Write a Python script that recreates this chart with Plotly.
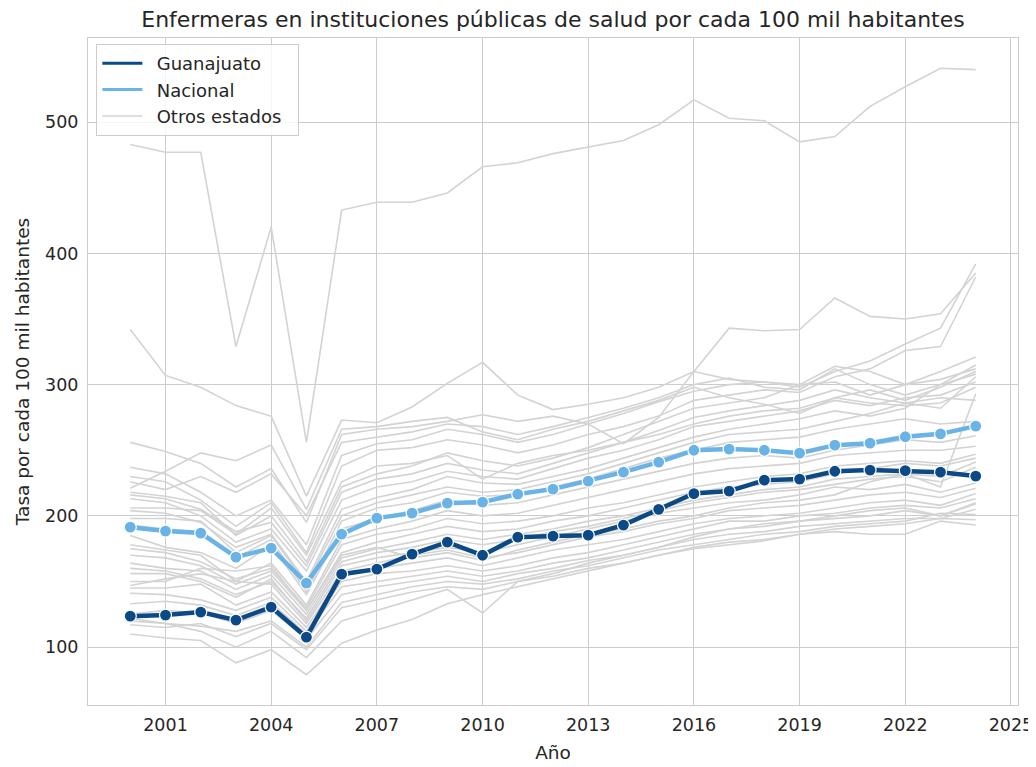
import plotly.graph_objects as go

years = list(range(2000, 2025))

guanajuato = [123.6, 124.4, 126.7, 120.6, 130.5, 107.6, 155.6, 159.4, 170.9, 180.0, 170.0, 183.8,
              184.6, 185.3, 193.0, 205.0, 217.0, 218.9, 227.2, 228.0, 234.0, 234.9, 234.5, 233.3, 230.3]
nacional = [191.4, 188.4, 186.9, 168.6, 175.4, 148.8, 186.1, 198.3, 202.1, 209.7, 210.5, 216.6,
            220.4, 226.5, 233.3, 241.0, 250.0, 250.9, 250.0, 247.8, 253.9, 255.4, 260.3, 262.5, 268.4]

otros = [
    [483, 477, 477, 329, 420, 256, 433, 439, 439, 446, 466, 469, 476, 481, 486, 498, 517, 503, 501, 485, 489, 512, 527, 541, 540],
    [342, 307, 298, 284, 276, 215, 273, 271, 283, 301, 317, 292, 281, 285, 290, 298, 310, 304, 302, 300, 314, 310, 300, 310, 321],
    [256, 249, 240, 222, 236, 195, 262, 266, 268, 272, 277, 272, 276, 270, 255, 275, 310, 343, 341, 342, 366, 352, 350, 354, 385],
    [237, 232, 218, 200, 212, 178, 246, 255, 258, 266, 262, 256, 262, 270, 278, 287, 295, 300, 302, 298, 310, 318, 331, 343, 392],
    [230, 226, 212, 192, 210, 172, 238, 250, 252, 258, 254, 248, 254, 262, 268, 276, 288, 292, 296, 294, 306, 312, 326, 329, 382],
    [226, 220, 230, 218, 232, 200, 256, 260, 264, 270, 268, 262, 268, 275, 282, 290, 300, 305, 298, 296, 312, 300, 292, 300, 315],
    [221, 234, 248, 242, 254, 205, 266, 268, 272, 275, 264, 258, 266, 272, 280, 288, 298, 290, 285, 278, 290, 296, 288, 298, 310],
    [218, 215, 210, 185, 200, 165, 222, 232, 238, 248, 242, 238, 244, 252, 262, 272, 282, 286, 290, 300, 302, 292, 300, 304, 312],
    [216, 213, 205, 188, 195, 162, 218, 228, 232, 240, 235, 232, 240, 248, 256, 265, 275, 280, 284, 288, 296, 290, 286, 282, 306],
    [213, 210, 200, 180, 190, 158, 212, 222, 226, 234, 230, 228, 236, 244, 250, 258, 268, 272, 276, 280, 288, 284, 290, 292, 302],
    [206, 206, 204, 186, 206, 170, 226, 238, 240, 246, 228, 240, 246, 250, 256, 262, 270, 276, 280, 282, 290, 286, 284, 286, 298],
    [204, 202, 195, 176, 186, 150, 205, 214, 220, 230, 225, 224, 230, 236, 244, 252, 260, 266, 270, 274, 280, 276, 282, 300, 308],
    [198, 198, 196, 172, 185, 148, 200, 210, 216, 222, 218, 220, 226, 232, 240, 248, 256, 262, 264, 266, 272, 278, 286, 290, 288],
    [193, 190, 188, 168, 182, 142, 196, 206, 210, 218, 215, 216, 222, 228, 236, 244, 250, 256, 258, 260, 266, 270, 274, 270, 272],
    [185, 176, 172, 160, 178, 140, 190, 198, 204, 212, 208, 210, 216, 222, 228, 234, 240, 244, 246, 244, 250, 254, 258, 256, 261],
    [178, 174, 170, 150, 164, 132, 182, 190, 196, 204, 200, 202, 208, 214, 220, 226, 232, 236, 238, 240, 246, 248, 250, 250, 253],
    [175, 172, 165, 152, 160, 130, 178, 186, 190, 198, 194, 196, 200, 206, 210, 216, 222, 226, 230, 232, 238, 240, 242, 240, 247],
    [170, 168, 162, 148, 158, 128, 172, 180, 186, 192, 188, 190, 196, 200, 206, 212, 218, 222, 224, 226, 232, 236, 240, 238, 244],
    [164, 160, 158, 144, 155, 125, 168, 175, 180, 186, 182, 186, 190, 196, 200, 206, 212, 216, 220, 222, 228, 230, 232, 230, 241],
    [160, 158, 152, 140, 150, 122, 165, 172, 176, 182, 178, 182, 188, 192, 198, 204, 210, 214, 218, 220, 224, 228, 230, 226, 237],
    [156, 156, 150, 138, 152, 120, 162, 168, 172, 176, 172, 178, 184, 190, 196, 202, 206, 210, 212, 216, 222, 220, 224, 218, 225],
    [150, 150, 160, 158, 162, 128, 170, 176, 168, 172, 166, 174, 180, 186, 190, 196, 200, 206, 210, 212, 216, 226, 232, 222, 293],
    [147, 152, 156, 150, 148, 118, 158, 164, 170, 174, 168, 172, 178, 184, 188, 194, 198, 204, 206, 208, 212, 216, 218, 214, 221],
    [145, 145, 148, 132, 142, 115, 154, 160, 164, 168, 162, 168, 174, 178, 182, 188, 194, 198, 200, 202, 206, 210, 212, 208, 217],
    [141, 140, 136, 128, 138, 112, 150, 156, 158, 162, 158, 162, 168, 172, 178, 184, 190, 196, 196, 200, 202, 206, 208, 206, 213],
    [133, 135, 132, 124, 134, 110, 146, 150, 154, 158, 154, 158, 164, 168, 174, 180, 186, 190, 192, 196, 198, 200, 204, 200, 209],
    [125, 128, 126, 118, 128, 106, 140, 146, 150, 154, 150, 156, 160, 166, 170, 176, 182, 186, 188, 192, 194, 196, 198, 198, 205],
    [122, 118, 116, 112, 120, 100, 134, 140, 146, 150, 148, 152, 158, 162, 168, 174, 178, 182, 186, 188, 192, 194, 196, 202, 201],
    [117, 115, 118, 108, 118, 98, 130, 136, 142, 146, 144, 150, 154, 160, 164, 170, 176, 180, 182, 186, 190, 192, 194, 198, 197],
    [110, 107, 105, 88, 98, 79, 103, 113, 121, 133, 140, 146, 152, 158, 164, 170, 175, 178, 181, 186, 188, 186, 186, 196, 193],
    [120, 118, 112, 100, 112, 92, 120, 128, 136, 144, 126, 150, 156, 164, 170, 176, 184, 190, 194, 196, 200, 204, 206, 200, 210],
]

x_ticks = [2001, 2004, 2007, 2010, 2013, 2016, 2019, 2022, 2025]
y_ticks = [100, 200, 300, 400, 500]

GTO = "#0b4a87"
NAC = "#69b3e7"
GRAY = "#d3d3d3"
FONT = "DejaVu Sans"
TXT = "#262626"

W, H = 1028, 759

fig = go.Figure()

for serie in otros:
    fig.add_trace(go.Scatter(x=years, y=serie, mode="lines",
                             line=dict(color=GRAY, width=1.6),
                             showlegend=False, hoverinfo="skip"))

fig.add_trace(go.Scatter(x=years, y=nacional, mode="lines+markers",
                         line=dict(color=NAC, width=4.5),
                         marker=dict(size=12, color=NAC, line=dict(color="white", width=1.2)),
                         showlegend=False))
fig.add_trace(go.Scatter(x=years, y=guanajuato, mode="lines+markers",
                         line=dict(color=GTO, width=4.5),
                         marker=dict(size=12, color=GTO, line=dict(color="white", width=1.2)),
                         showlegend=False))

# legend entries
NB = "\u00a0"
TH = "\u2009"
fig.add_trace(go.Scatter(x=[None], y=[None], mode="lines", name=NB + TH + "Guanajuato",
                         line=dict(color=GTO, width=3)))
fig.add_trace(go.Scatter(x=[None], y=[None], mode="lines", name=NB + TH + "Nacional",
                         line=dict(color=NAC, width=3)))
fig.add_trace(go.Scatter(x=[None], y=[None], mode="lines", name=NB + TH + "Otros estados" + NB * 2,
                         line=dict(color=GRAY, width=1.6)))

fig.update_layout(
    width=W, height=H,
    margin=dict(l=80, r=18, t=30, b=62, autoexpand=False),
    paper_bgcolor="white", plot_bgcolor="white",
    font=dict(family=FONT, size=17.5, color=TXT),
    title=dict(text="Enfermeras en instituciones públicas de salud por cada 100 mil habitantes",
               x=545 / W, xanchor="center", y=1 - 11 / H, yanchor="middle",
               font=dict(size=22, color=TXT)),
    showlegend=True,
    legend=dict(x=0.009, y=0.991, xanchor="left", yanchor="top",
                bgcolor="rgba(255,255,255,0.8)", bordercolor="#cccccc", borderwidth=1,
                font=dict(size=18, color=TXT), traceorder="normal",
                itemwidth=40, tracegroupgap=0),
    xaxis=dict(range=[1998.8, 2025.2], tickvals=x_ticks, ticktext=[str(v) for v in x_ticks],
               showgrid=True, gridcolor="#cccccc", gridwidth=1,
               showline=True, mirror=True, linecolor="#cccccc", linewidth=1,
               zeroline=False, ticks="", tickfont=dict(size=17.5, color=TXT),
               automargin=False, ticklabelstandoff=4,
               title=dict(text="Año", font=dict(size=18.5, color=TXT), standoff=12)),
    yaxis=dict(range=[55.9, 564.1], tickvals=y_ticks,
               showgrid=True, gridcolor="#cccccc", gridwidth=1,
               showline=True, mirror=True, linecolor="#cccccc", linewidth=1,
               zeroline=False, ticks="", tickfont=dict(size=17.5, color=TXT),
               automargin=False, ticklabelstandoff=5,
               title=dict(text="Tasa por cada 100 mil habitantes", font=dict(size=18.5, color=TXT), standoff=10)),
)

fig.write_html("out.html")
